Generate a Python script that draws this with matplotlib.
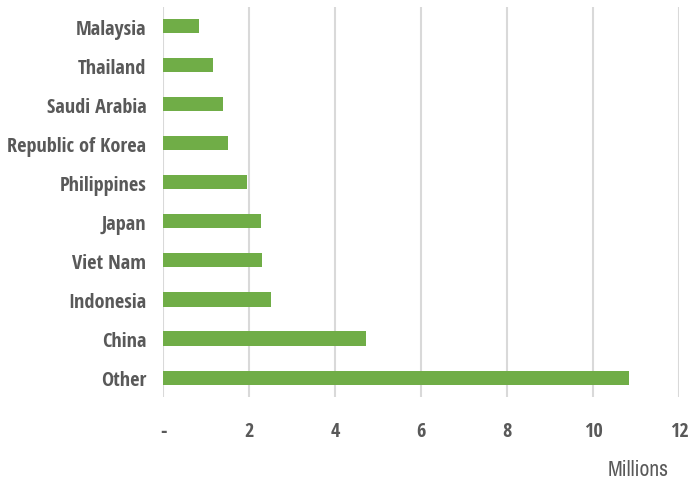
import matplotlib
matplotlib.use("Agg")
import matplotlib.pyplot as plt

countries = ["Other", "China", "Indonesia", "Viet Nam", "Japan", "Philippines",
             "Republic of Korea", "Saudi Arabia", "Thailand", "Malaysia"]
values = [10.83, 4.72, 2.51, 2.30, 2.28, 1.95, 1.52, 1.40, 1.16, 0.84]
xticks = [0, 2, 4, 6, 8, 10, 12]
xlabels = ["-", "2", "4", "6", "8", "10", "12"]

fam = ["Open Sans Condensed", "Carlito", "DejaVu Sans"]
fam_light = ["Archivo Narrow", "Carlito", "DejaVu Sans"]

fig = plt.figure(figsize=(6.88, 4.89), dpi=100)
ax = fig.add_axes([0.237, 0.186, 0.75, 0.798])

ax.barh(range(len(countries)), values, height=0.36, color="#70AD47", zorder=3)
ax.set_ylim(-0.5, len(countries) - 0.5)
ax.set_xlim(0, 12)
ax.set_xticks(xticks)
ax.set_xticklabels(xlabels)
ax.set_yticks(range(len(countries)))
ax.set_yticklabels(countries)
ax.grid(axis="x", color="#D9D9D9", linewidth=1.5, zorder=0)
for s in ax.spines.values():
    s.set_visible(False)
ax.tick_params(axis="both", length=0, colors="#595959")
ax.tick_params(axis="x", pad=17)
ax.tick_params(axis="y", pad=12)
for lab in ax.get_xticklabels() + ax.get_yticklabels():
    lab.set_fontfamily(fam)
    lab.set_fontstretch("condensed")
    lab.set_fontweight("bold")
    lab.set_fontsize(14.6)
    lab.set_color("#595959")

fig.text(0.928, 0.039, "Millions", ha="center", va="center", fontsize=15.5,
         color="#595959", family=fam_light, weight="normal")

fig.savefig("out.png", dpi=100)
